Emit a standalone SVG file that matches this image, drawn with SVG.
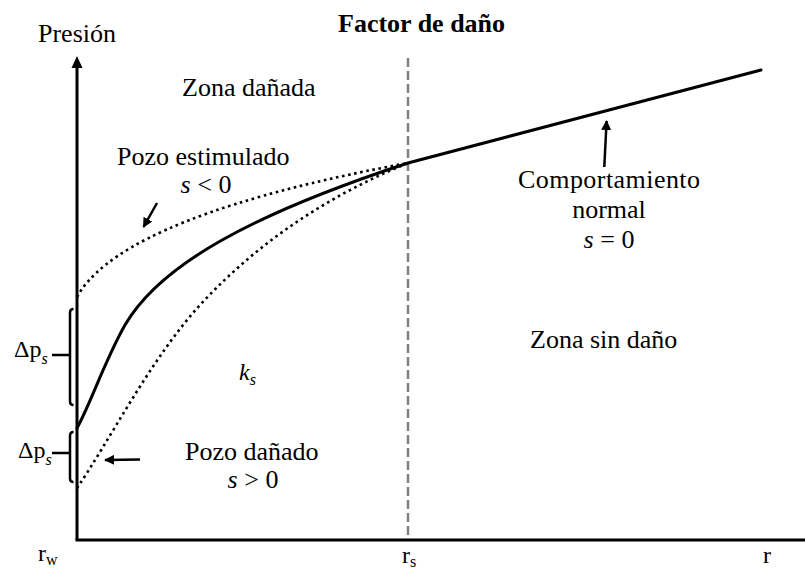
<svg xmlns="http://www.w3.org/2000/svg" width="805" height="569" viewBox="0 0 805 569">
<style>
text{font-family:"Liberation Serif","Times New Roman",serif;fill:#000}
.t{font-size:26px}
.b{font-weight:bold}
.i{font-style:italic}
.ax{stroke:#000;stroke-width:3;fill:none}
.sol{stroke:#000;stroke-width:3;fill:none;stroke-linecap:round}
.dot{stroke:#000;stroke-width:2.6;fill:none;stroke-dasharray:2.6 3.6}
.dash{stroke:#808080;stroke-width:2.5;stroke-dasharray:9 4;fill:none}
.br{stroke:#000;stroke-width:2.5;fill:none}
.ar{stroke:#000;stroke-width:2.5;fill:none}
</style>
<defs>
<marker id="ah" viewBox="0 0 10 10" refX="9" refY="5" markerWidth="4" markerHeight="4" orient="auto" markerUnits="strokeWidth">
<path d="M0,0 L10,5 L0,10 Z" fill="#000"/>
</marker>
</defs>
<rect width="805" height="569" fill="#fff"/>
<g id="axes">
<line class="ax" x1="77" y1="66" x2="77" y2="540"/>
<polygon points="77,56 71.5,68 82.5,68" fill="#000"/>
<line class="ax" x1="75.5" y1="540" x2="805" y2="540"/>
<line class="dash" x1="408" y1="58" x2="408" y2="539"/>
</g>
<g id="curves">
<path class="sol" d="M77,428 C90,405 105,360 125,325 C160,265 250,215 408,163 L761,70"/>
<path class="dot" d="M77,297 C100,255 180,205 408,163"/>
<path class="dot" d="M77,488 C110,440 150,360 200,305 C260,240 330,195 408,163"/>
</g>
<g id="connectors">
<line class="ar" x1="157" y1="203" x2="143.5" y2="227" marker-end="url(#ah)"/>
<line class="ar" x1="604.3" y1="167" x2="606.6" y2="121" marker-end="url(#ah)"/>
<line class="ar" x1="140" y1="459.5" x2="105" y2="460" marker-end="url(#ah)"/>
</g>
<g id="brackets">
<path class="br" d="M73.5,309 Q70,309 70,312.5 L70,401.5 Q70,405 73.5,405 M52,355 L70,355"/>
<path class="br" d="M73.5,432 Q70,432 70,435.5 L70,478.5 Q70,482 73.5,482 M52,453 L70,453"/>
</g>
<g id="labels" font-family="Liberation Serif, Times New Roman, serif">
<text class="t" x="38" y="42">Presión</text>
<text class="t b" x="338" y="32">Factor de daño</text>
<text class="t" x="182" y="96">Zona dañada</text>
<text class="t" x="117" y="165">Pozo estimulado</text>
<text class="t" x="206" y="193" text-anchor="middle"><tspan class="i">s</tspan> &lt; 0</text>
<text class="t" x="609" y="188" text-anchor="middle" textLength="182">Comportamiento</text>
<text class="t" x="609" y="218" text-anchor="middle">normal</text>
<text class="t" x="609" y="248" text-anchor="middle"><tspan class="i">s</tspan> = 0</text>
<text class="t" x="530" y="348">Zona sin daño</text>
<text class="i" font-size="24" x="239" y="380">k<tspan font-size="16" dy="5">s</tspan></text>
<text class="t" x="185" y="460">Pozo dañado</text>
<text class="t" x="253" y="488" text-anchor="middle"><tspan class="i">s</tspan> &gt; 0</text>
<text font-size="24" x="14" y="357">Δp<tspan font-size="16" class="i" dy="7">s</tspan></text>
<text font-size="24" x="18" y="458">Δp<tspan font-size="16" class="i" dy="7">s</tspan></text>
<text font-size="24" x="38" y="561">r<tspan font-size="16" dy="4">w</tspan></text>
<text font-size="24" x="402" y="563">r<tspan font-size="16" dy="4">s</tspan></text>
<text font-size="24" x="763" y="563">r</text>
</g>
</svg>
